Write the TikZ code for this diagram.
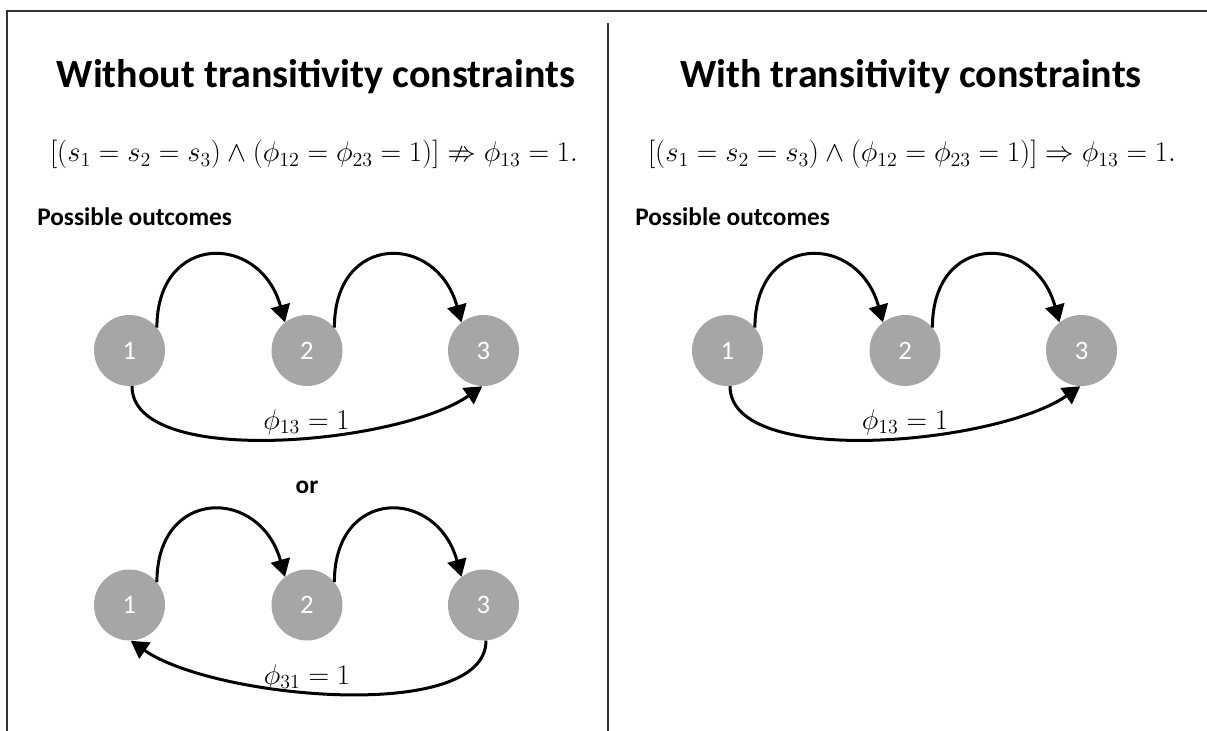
\RequirePackage{fix-cm}
\documentclass[tikz,border=0pt]{standalone}
\usepackage{amssymb}
\usepackage{fontspec}
\setmainfont{Carlito}
\usetikzlibrary{arrows.meta}
\definecolor{nodegray}{RGB}{166,166,166}
\definecolor{rulegray}{RGB}{50,50,50}
\begin{document}
\begin{tikzpicture}[x=0.75pt,y=-0.75pt,
  vert/.style={circle,fill=nodegray,minimum size=53.25pt,inner sep=0pt,text=white,font=\fontsize{20}{24}\selectfont},
  arr/.style={line width=2.25pt,-{Triangle[length=13pt,width=14.5pt]}},
  title/.style={font=\fontsize{30}{36}\selectfont\bfseries,anchor=base,inner sep=0pt},
  sub/.style={font=\fontsize{19}{23}\selectfont\bfseries,inner sep=0pt},
  mathlab/.style={font=\fontsize{21.4}{25}\selectfont,anchor=base,inner sep=0pt},
  frame/.style={line width=1.1pt,draw=rulegray}]
\useasboundingbox (0,0) rectangle (1207,731);
% frame
\draw[frame] (7,731) -- (7,11) -- (1207,11);
\draw[frame] (608,23) -- (608,731);
% titles
\node[title] (t1) at (316,88) {Without transitivity constraints};
\node[title] (t2) at (911,88) {With transitivity constraints};
\node[mathlab] (f1) at (314,162) {$[(s_1 = s_2 = s_3) \wedge (\phi_{12} = \phi_{23} = 1)] \nRightarrow \phi_{13} = 1.$};
\node[mathlab] (f2) at (912,162) {$[(s_1 = s_2 = s_3) \wedge (\phi_{12} = \phi_{23} = 1)] \Rightarrow \phi_{13} = 1.$};
\node[sub,anchor=base west] (p1) at (37,226) {Possible outcomes};
\node[sub,anchor=base west] (p2) at (635,226) {Possible outcomes};
\node[sub,anchor=base] (or) at (307,493) {or};
% left graph 1
\node[vert] (a1) at (129.5,350.5) {1};
\node[vert] (a2) at (307,350.5) {2};
\node[vert] (a3) at (483.5,350.5) {3};
\draw[arr] (a1.40) .. controls +(0,-95) and +(-25,-90) .. (a2.128);
\draw[arr] (a2.40) .. controls +(0,-95) and +(-25,-90) .. (a3.128);
\draw[arr] (a1.-86) .. controls +(0,83) and +(-83,58) .. (a3.-92);
\node[mathlab] (l1) at (306.5,429) {$\phi_{13} = 1$};
% left graph 2
\node[vert] (b1) at (129.5,605) {1};
\node[vert] (b2) at (307,605) {2};
\node[vert] (b3) at (483.5,605) {3};
\draw[arr] (b1.40) .. controls +(0,-95) and +(-25,-90) .. (b2.128);
\draw[arr] (b2.40) .. controls +(0,-95) and +(-25,-90) .. (b3.128);
\draw[arr] (b3.-86) .. controls +(0,83) and +(83,58) .. (b1.-88);
\node[mathlab] (l2) at (307,684) {$\phi_{31} = 1$};
% right graph
\node[vert] (c1) at (727.5,350.5) {1};
\node[vert] (c2) at (905,350.5) {2};
\node[vert] (c3) at (1081.5,350.5) {3};
\draw[arr] (c1.40) .. controls +(0,-95) and +(-25,-90) .. (c2.128);
\draw[arr] (c2.40) .. controls +(0,-95) and +(-25,-90) .. (c3.128);
\draw[arr] (c1.-86) .. controls +(0,83) and +(-83,58) .. (c3.-92);
\node[mathlab] (l3) at (905,429) {$\phi_{13} = 1$};
\end{tikzpicture}
\end{document}
